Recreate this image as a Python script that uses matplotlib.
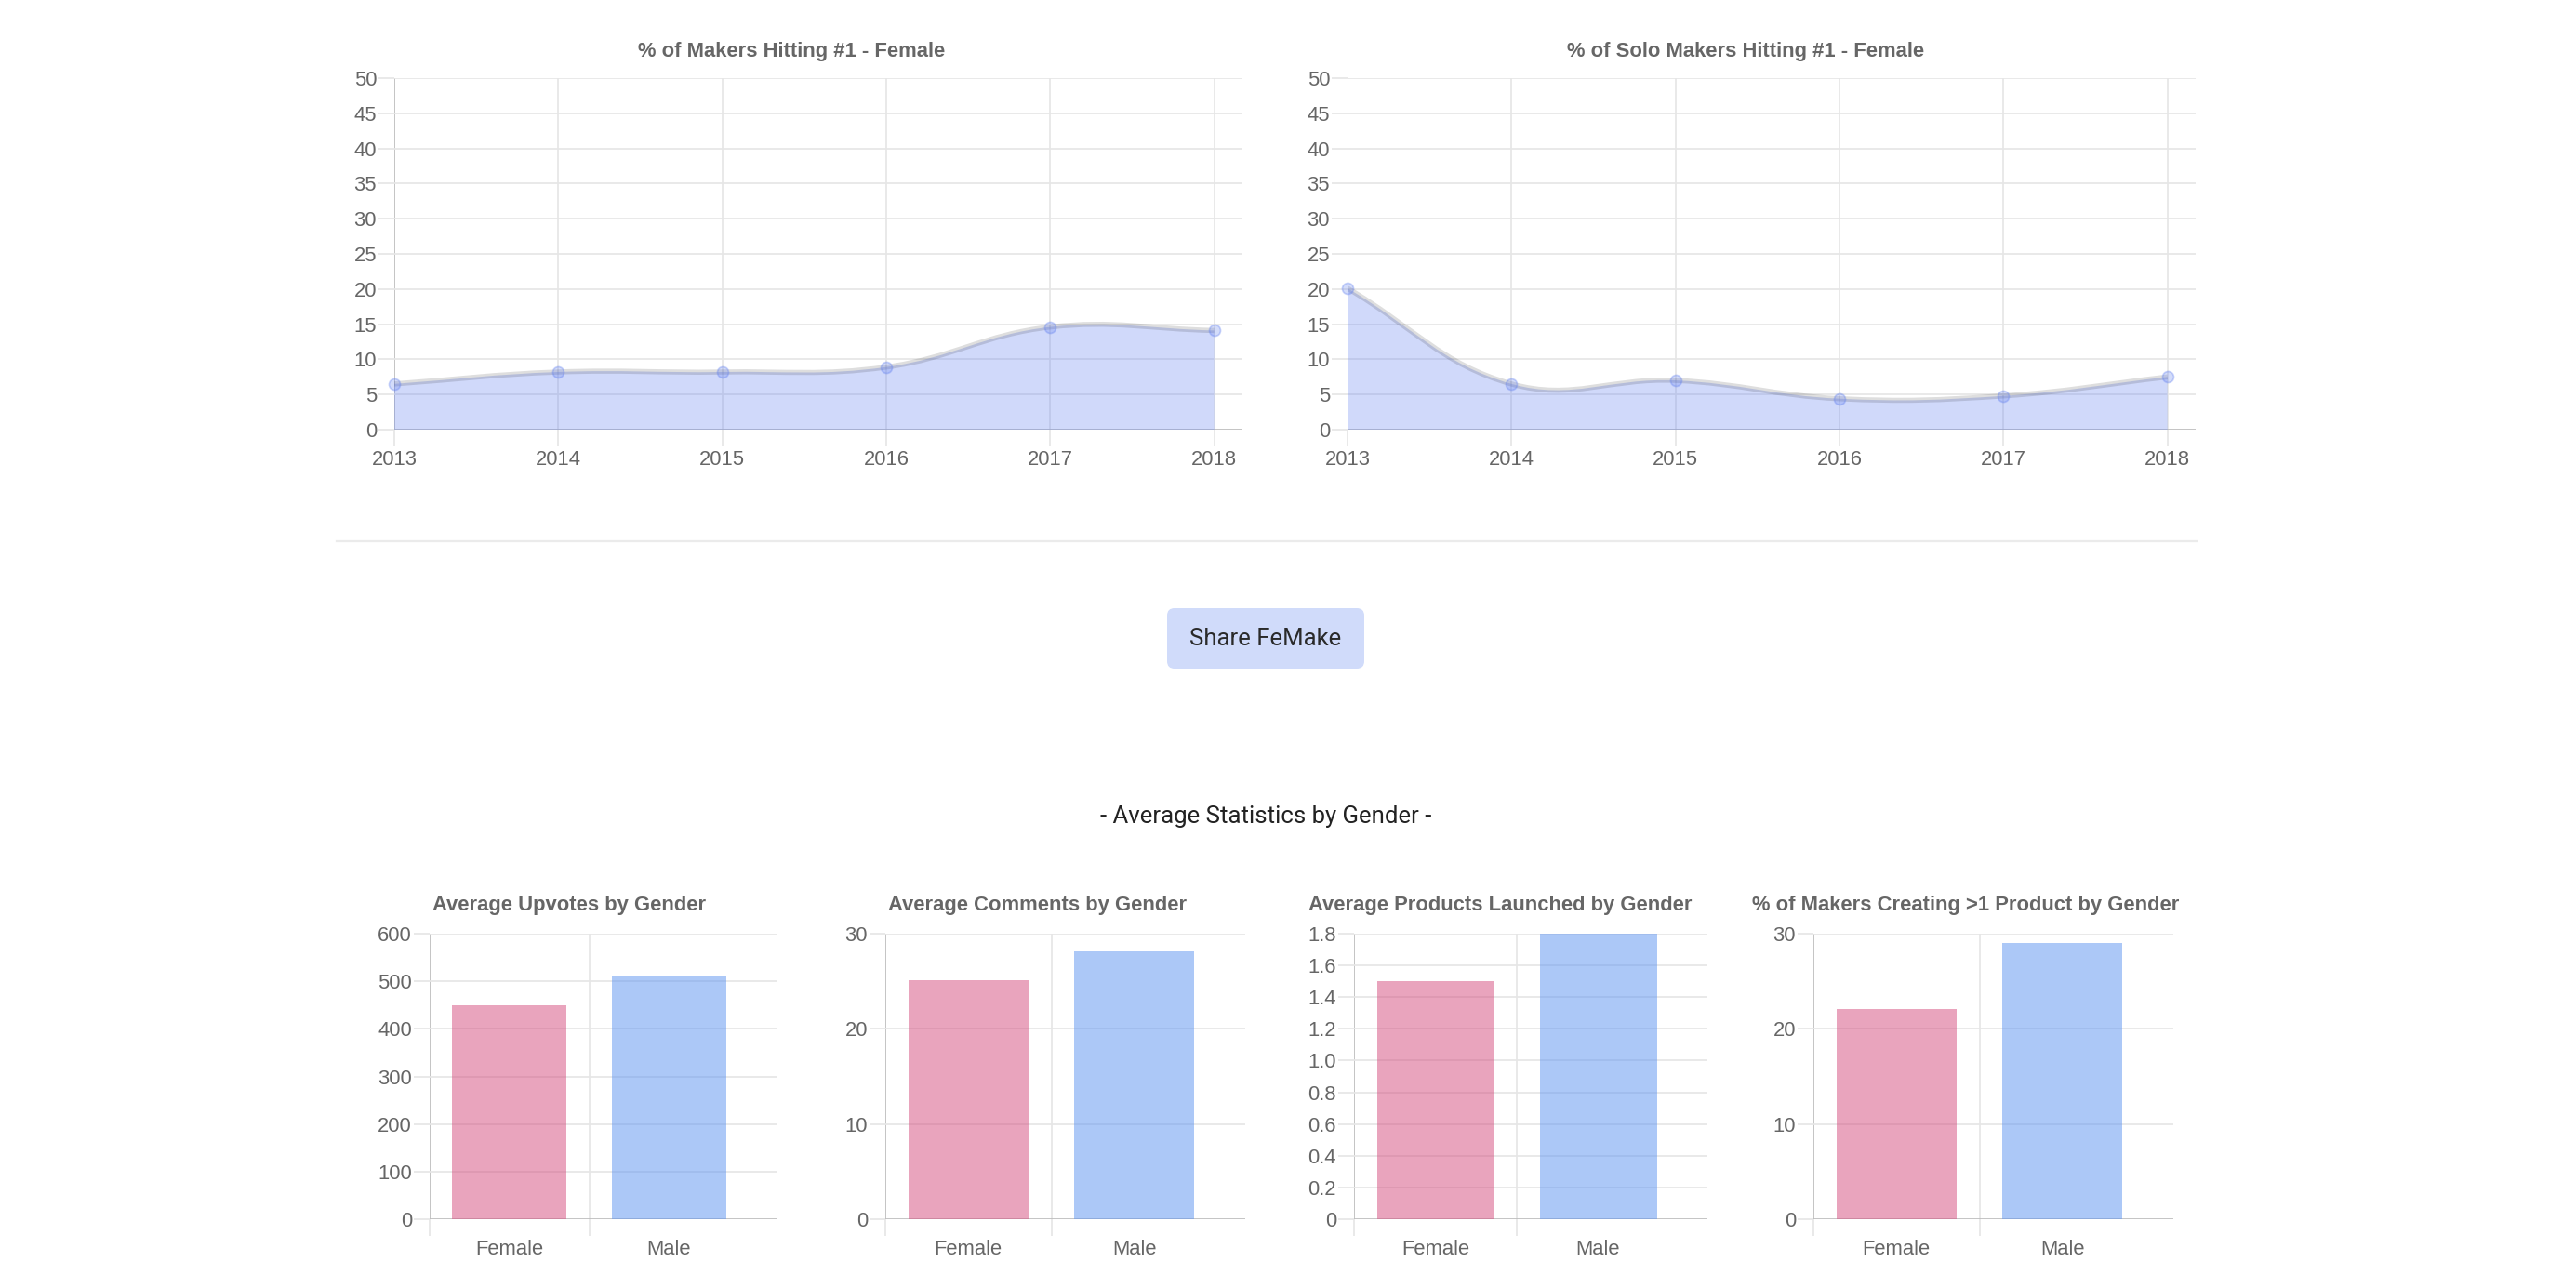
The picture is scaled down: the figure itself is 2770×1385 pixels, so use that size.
import numpy as np
import matplotlib
matplotlib.use("Agg")
import matplotlib.pyplot as plt
from matplotlib.path import Path
from matplotlib.patches import PathPatch, FancyBboxPatch
from matplotlib.lines import Line2D
from matplotlib.transforms import IdentityTransform

# ---------------- data ----------------
years = [2013, 2014, 2015, 2016, 2017, 2018]
makers_hitting_1_female = [6.5, 8.2, 8.2, 8.9, 14.6, 14.1]
solo_makers_hitting_1_female = [20.1, 6.5, 7.0, 4.4, 4.8, 7.5]
line_titles = ["% of Makers Hitting #1 - Female",
               "% of Solo Makers Hitting #1 - Female"]
line_yticks = list(range(0, 51, 5))

genders = ["Female", "Male"]
avg_upvotes = [449, 512]
avg_comments = [25.1, 28.1]
avg_products = [1.50, 1.80]
pct_multi_product = [22.1, 29.0]
bar_titles = ["Average Upvotes by Gender",
              "Average Comments by Gender",
              "Average Products Launched by Gender",
              "% of Makers Creating >1 Product by Gender"]
bar_yticks = [
    [0, 100, 200, 300, 400, 500, 600],
    [0, 10, 20, 30],
    [0, 0.2, 0.4, 0.6, 0.8, 1.0, 1.2, 1.4, 1.6, 1.8],
    [0, 10, 20, 30],
]
bar_ytick_labels = [
    ["0", "100", "200", "300", "400", "500", "600"],
    ["0", "10", "20", "30"],
    ["0", "0.2", "0.4", "0.6", "0.8", "1.0", "1.2", "1.4", "1.6", "1.8"],
    ["0", "10", "20", "30"],
]
share_label = "Share FeMake"
section_heading = "- Average Statistics by Gender -"

# ---------------- style ----------------
W, H, DPI = 2770, 1385, 100
plt.rcParams['font.family'] = ['Liberation Sans', 'DejaVu Sans']
GRID = '#E6E6E6'
ZERO = '#BDBDBD'
TXT = '#666666'
PX = 0.72  # points per pixel at dpi 100
GRID_LW = 1.75 * PX
TICK_LEN = 17.5 * PX
FILL = (100 / 255, 130 / 255, 240 / 255, 0.30)
PT_FACE = (100 / 255, 130 / 255, 240 / 255, 0.28)
PT_EDGE = (100 / 255, 130 / 255, 240 / 255, 0.35)
LINE_COL = (0, 0, 0, 0.13)
FEMALE = (213 / 255, 75 / 255, 125 / 255, 0.5)
MALE = (91 / 255, 147 / 255, 241 / 255, 0.5)

fig = plt.figure(figsize=(W / DPI, H / DPI), dpi=DPI)
fig.patch.set_facecolor('white')


def add_ax(l, t, r, b):
    return fig.add_axes([l / W, 1 - b / H, (r - l) / W, (b - t) / H])


def style_axes(ax):
    for s in ax.spines.values():
        s.set_visible(False)
    ax.set_axisbelow(True)
    ax.tick_params(axis='both', which='both', colors=GRID, width=GRID_LW,
                   length=TICK_LEN, labelcolor=TXT, labelsize=15.8)
    ax.tick_params(axis='y', pad=1.0)
    ax.tick_params(axis='x', pad=3.0)


def chartjs_curve(ax, xs, ys, ymin, ymax, tension=0.4):
    pts = ax.transData.transform(np.column_stack([xs, ys]).astype(float))
    n = len(pts)
    prev_cp = np.zeros_like(pts)
    next_cp = np.zeros_like(pts)
    for i in range(n):
        p0 = pts[i - 1] if i > 0 else pts[i]
        p1 = pts[i]
        p2 = pts[i + 1] if i < n - 1 else pts[i]
        d01 = np.hypot(*(p1 - p0))
        d12 = np.hypot(*(p2 - p1))
        tot = d01 + d12
        s01 = d01 / tot if tot else 0
        s12 = d12 / tot if tot else 0
        prev_cp[i] = p1 - tension * s01 * (p2 - p0)
        next_cp[i] = p1 + tension * s12 * (p2 - p0)
    verts = [pts[0]]
    codes = [Path.MOVETO]
    for i in range(n - 1):
        verts += [next_cp[i], prev_cp[i + 1], pts[i + 1]]
        codes += [Path.CURVE4] * 3
    data = ax.transData.inverted().transform(np.array(verts))
    data[:, 1] = np.clip(data[:, 1], ymin, ymax)
    return data, codes


# ---------------- line charts ----------------
line_series = [makers_hitting_1_female, solo_makers_hitting_1_female]
line_boxes = [(424, 84, 1335, 462), (1449, 84, 2361, 462)]
line_title_x = [851, 1877]
for series, box, title, tx in zip(line_series, line_boxes, line_titles, line_title_x):
    ax = add_ax(*box)
    style_axes(ax)
    span_px = 881.7
    pad = (box[2] - box[0] - span_px) / span_px * (years[-1] - years[0])
    ax.set_xlim(years[0], years[-1] + pad)
    ax.set_ylim(line_yticks[0], line_yticks[-1])
    ax.set_xticks(years)
    ax.set_xticklabels([str(y) for y in years])
    ax.set_yticks(line_yticks)
    ax.set_yticklabels([str(v) for v in line_yticks])
    ax.grid(True, color=GRID, lw=GRID_LW)
    # darker zero lines
    xt = ax.xaxis.get_major_ticks()
    xt[0].gridline.set_color(ZERO)
    xt[0].tick1line.set_color(ZERO)
    yt = ax.yaxis.get_major_ticks()
    yt[0].gridline.set_color(ZERO)
    yt[0].tick1line.set_color(ZERO)

    verts, codes = chartjs_curve(ax, years, series, line_yticks[0], line_yticks[-1])
    fill_verts = np.vstack([verts, [[years[-1], 0], [years[0], 0], verts[0]]])
    fill_codes = codes + [Path.LINETO, Path.LINETO, Path.CLOSEPOLY]
    ax.add_patch(PathPatch(Path(fill_verts, fill_codes), facecolor=FILL,
                           edgecolor='none', zorder=2))
    ax.add_patch(PathPatch(Path(verts, codes), facecolor='none',
                           edgecolor=LINE_COL, lw=5.5 * PX,
                           joinstyle='round', capstyle='butt', zorder=3))
    ax.plot(years, series, 'o', ms=12 * PX, mfc=PT_FACE, mec=PT_EDGE,
            mew=1.75 * PX, zorder=4, clip_on=False)
    fig.text(tx / W, 1 - 55 / H, title, ha='center', va='center',
             fontsize=15.8, fontweight='bold', color=TXT)

# ---------------- separator, button, heading ----------------
fig.add_artist(Line2D([362 / W, 2362 / W], [1 - 582 / H, 1 - 582 / H],
                      color='#EBEBEB', lw=2.2 * PX))
fig.add_artist(FancyBboxPatch((1255, H - 719), 212, 65,
                              boxstyle='round,pad=0,rounding_size=8',
                              facecolor='#D0DBFA', edgecolor='none',
                              transform=IdentityTransform()))
fig.text(1361 / W, 1 - 687 / H, share_label, ha='center', va='center',
         family=['Roboto', 'DejaVu Sans'], fontweight='normal',
         fontsize=18.5, color='#2a2a2a')
fig.text(1361 / W, 1 - 878 / H, section_heading, ha='center', va='center',
         family=['Roboto', 'DejaVu Sans'], fontweight='normal',
         fontsize=18.5, color='#222222')

# ---------------- bar charts ----------------
bar_series = [avg_upvotes, avg_comments, avg_products, pct_multi_product]
bar_lefts = [462, 952, 1456, 1950]
bar_rights = [835, 1339, 1836, 2337]
bar_title_x = [612, 1116, 1613, 2114]
x = np.arange(len(genders))
for vals, l, r, title, tx, yt_vals, yt_lab in zip(
        bar_series, bar_lefts, bar_rights, bar_titles, bar_title_x,
        bar_yticks, bar_ytick_labels):
    ax = add_ax(l, 1004, r, 1311)
    style_axes(ax)
    catw = (r - l - 30) / 2
    ax.set_xlim(-0.5, 1.5 + 30 / catw)
    ax.set_ylim(yt_vals[0], yt_vals[-1])
    ax.set_xticks(x)
    ax.set_xticklabels(genders)
    ax.set_xticks([-0.5, 0.5], minor=True)
    ax.tick_params(axis='x', which='major', length=0, pad=3.0 + TICK_LEN)
    ax.set_yticks(yt_vals)
    ax.set_yticklabels(yt_lab)
    ax.grid(True, axis='y', which='major', color=GRID, lw=GRID_LW)
    ax.grid(True, axis='x', which='minor', color=GRID, lw=GRID_LW)
    mt = ax.xaxis.get_minor_ticks()
    mt[0].gridline.set_color(ZERO)
    mt[0].tick1line.set_color(ZERO)
    ytk = ax.yaxis.get_major_ticks()
    ytk[0].gridline.set_color(ZERO)
    ytk[0].tick1line.set_color(ZERO)
    ax.bar(x, vals, width=0.72, color=[FEMALE, MALE], zorder=2)
    fig.text(tx / W, 1 - 974 / H, title, ha='center', va='center',
             fontsize=15.8, fontweight='bold', color=TXT)

fig.savefig('out.png', dpi=DPI, facecolor='white')
